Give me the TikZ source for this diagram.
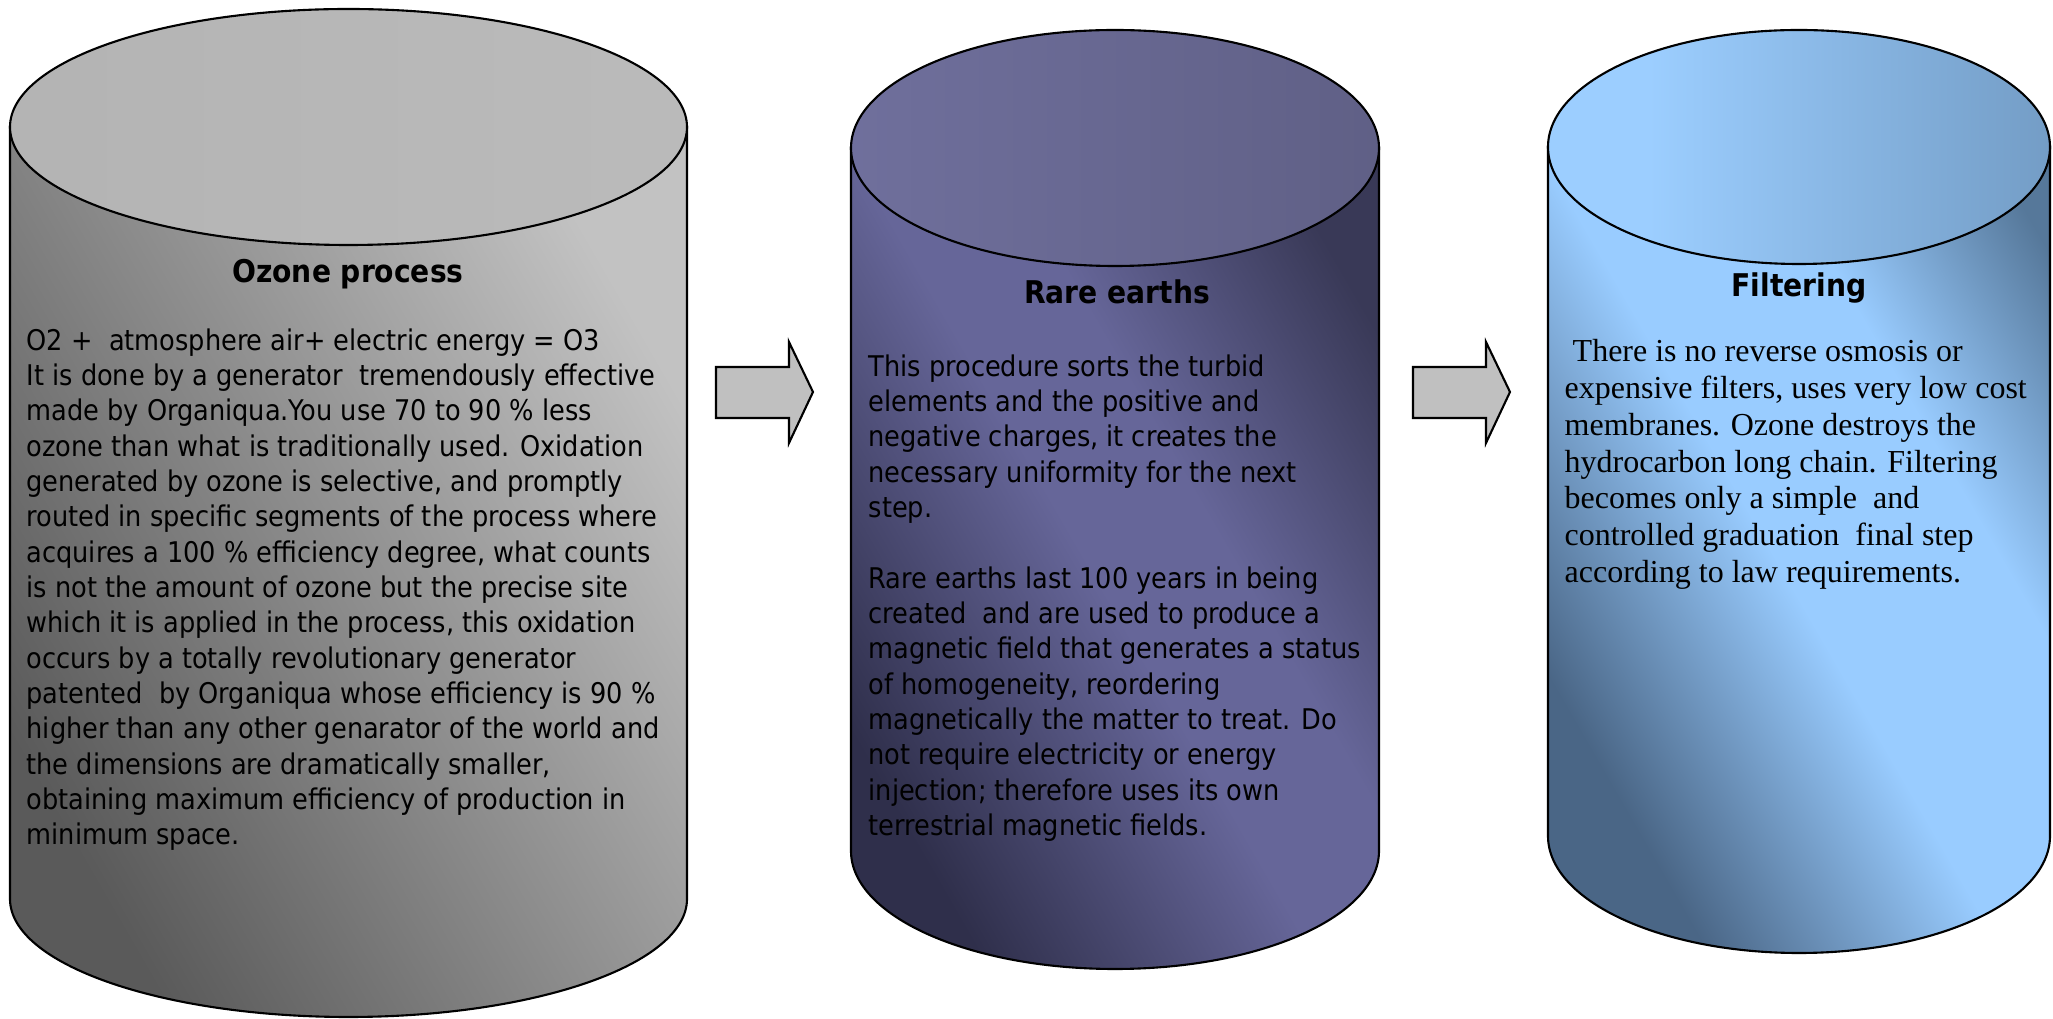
\documentclass[tikz,border=0pt]{standalone}
\usepackage{fontspec}
\usepackage{xcolor}
\newfontfamily\tahoma{DejaVu Sans Condensed}
\newfontfamily\timesfont{Liberation Serif}

\definecolor{gdark}{HTML}{5A5A5A}
\definecolor{glight}{HTML}{C2C2C2}
\definecolor{gtopa}{HTML}{B0B0B0}
\definecolor{gtopb}{HTML}{BEBEBE}
\definecolor{pdark}{HTML}{2F2F4B}
\definecolor{pmid}{HTML}{666699}
\definecolor{pdarkb}{HTML}{393957}
\definecolor{ptopa}{HTML}{7777A7}
\definecolor{ptopb}{HTML}{58587B}
\definecolor{bdark}{HTML}{4A6686}
\definecolor{bmid}{HTML}{99CCFF}
\definecolor{bdarkb}{HTML}{56789A}
\definecolor{btopa}{HTML}{9CCEFF}
\definecolor{btopb}{HTML}{5A7EA2}
\definecolor{arrowgray}{HTML}{C0C0C0}

\pgfdeclarehorizontalshading{ozonebody}{100bp}{color(0bp)=(gdark); color(25bp)=(gdark); color(75bp)=(glight); color(100bp)=(glight)}
\pgfdeclarehorizontalshading{ozonetop}{100bp}{color(0bp)=(gtopa); color(100bp)=(gtopb)}
\pgfdeclarehorizontalshading{rarebody}{100bp}{color(0bp)=(pdark); color(25bp)=(pdark); color(48bp)=(pmid); color(58bp)=(pmid); color(77bp)=(pdarkb); color(100bp)=(pdarkb)}
\pgfdeclarehorizontalshading{raretop}{100bp}{color(0bp)=(ptopa); color(100bp)=(ptopb)}
\pgfdeclarehorizontalshading{filterbody}{100bp}{color(0bp)=(bdark); color(27bp)=(bdark); color(48bp)=(bmid); color(64bp)=(bmid); color(80bp)=(bdarkb); color(100bp)=(bdarkb)}
\pgfdeclarehorizontalshading{filtertop}{100bp}{color(0bp)=(btopa); color(35bp)=(btopa); color(100bp)=(btopb)}

\tikzset{
  cyledge/.style={draw=black, line width=0.6pt},
  blockarrow/.style={draw=black, line width=0.6pt, fill=arrowgray},
  steptitle/.style={inner sep=0pt, font=\tahoma\bfseries\fontsize{8.9}{10}\selectfont},
  sanstext/.style={anchor=north west, align=left, inner sep=0pt, font=\tahoma\fontsize{8.1}{10.04}\selectfont},
  seriftext/.style={anchor=north west, align=left, inner sep=0pt, font=\timesfont\fontsize{9.1}{10.44}\selectfont}
}

\begin{document}
\begin{tikzpicture}[x=0.01cm, y=-0.01cm]
  \useasboundingbox (0,0) rectangle (2053,1019);

  \shadedraw[cyledge, shading=ozonebody, shading angle=30]
    (10,127) -- (10,899) arc[start angle=180, end angle=0, x radius=338.5, y radius=118] -- (687,127) -- cycle;
  \shadedraw[cyledge, shading=ozonetop] (348.5,127) ellipse[x radius=338.5, y radius=118];

  \shadedraw[cyledge, shading=rarebody, shading angle=30]
    (851,148) -- (851,851) arc[start angle=180, end angle=0, x radius=264, y radius=118] -- (1379,148) -- cycle;
  \shadedraw[cyledge, shading=raretop] (1115,148) ellipse[x radius=264, y radius=118];

  \shadedraw[cyledge, shading=filterbody, shading angle=30]
    (1548,147) -- (1548,836) arc[start angle=180, end angle=0, x radius=251, y radius=117] -- (2050,147) -- cycle;
  \shadedraw[cyledge, shading=filtertop] (1799,147) ellipse[x radius=251, y radius=117];

  \draw[blockarrow] (716,367) -- ++(73,0) -- ++(0,-25) -- ++(24,50) -- ++(-24,51)
    -- ++(0,-25) -- ++(-73,0) -- cycle;
  \draw[blockarrow] (1413,367) -- ++(73,0) -- ++(0,-25) -- ++(24,50) -- ++(-24,51)
    -- ++(0,-25) -- ++(-73,0) -- cycle;

  \node (ozonetitle) [steptitle] at (348,274) {Ozone process};
  \node (ozonetext) [sanstext] at (26,328) {O2 + \ atmosphere air+ electric energy = O3\\
    It is done by a generator \ tremendously effective\\
    made by Organiqua.You use 70 to 90 \% less\\
    ozone than what is traditionally used. Oxidation\\
    generated by ozone is selective, and promptly\\
    routed in specific segments of the process where\\
    acquires a 100 \% efficiency degree, what counts\\
    is not the amount of ozone but the precise site\\
    which it is applied in the process, this oxidation\\
    occurs by a totally revolutionary generator\\
    patented \ by Organiqua whose efficiency is 90 \%\\
    higher than any other genarator of the world and\\
    the dimensions are dramatically smaller,\\
    obtaining maximum efficiency of production in\\
    minimum space.};

  \node (raretitle) [steptitle] at (1117,292) {Rare earths};
  \node (raretext) [sanstext] at (868,354) {This procedure sorts the turbid\\
    elements and the positive and\\
    negative charges, it creates the\\
    necessary uniformity for the next\\
    step.\\[10.04pt]
    Rare earths last 100 years in being\\
    created \ and are used to produce a\\
    magnetic field that generates a status\\
    of homogeneity, reordering\\
    magnetically the matter to treat. Do\\
    not require electricity or energy\\
    injection; therefore uses its own\\
    terrestrial magnetic fields.};

  \node (filtertitle) [steptitle] at (1799,288) {Filtering};
  \node (filtertext) [seriftext] at (1564,339) {\ There is no reverse osmosis or\\
    expensive filters, uses very low cost\\
    membranes. Ozone destroys the\\
    hydrocarbon long chain. Filtering\\
    becomes only a simple \ and\\
    controlled graduation \ final step\\
    according to law requirements.};
\end{tikzpicture}
\end{document}
